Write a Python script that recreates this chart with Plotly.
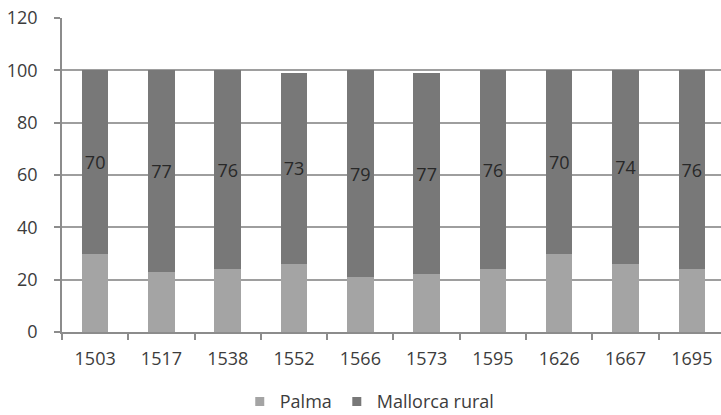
import plotly.graph_objects as go

# Population share (%) living in Palma vs. the rest of Mallorca
years = ["1503", "1517", "1538", "1552", "1566", "1573", "1595", "1626", "1667", "1695"]
palma = [30, 23, 24, 26, 21, 22, 24, 30, 26, 24]
rural = [70, 77, 76, 73, 79, 77, 76, 70, 74, 76]
y_ticks = [0, 20, 40, 60, 80, 100, 120]

FONT = "Open Sans"
LIGHT = "#a4a4a4"
DARK = "#787878"
TEXT = "#3c3c3c"

fig = go.Figure()

fig.add_trace(go.Bar(
    x=years, y=palma, name="Palma",
    marker=dict(color=LIGHT, line=dict(width=0)),
    showlegend=False, hoverinfo="skip",
))
fig.add_trace(go.Bar(
    x=years, y=rural, name="Mallorca rural",
    marker=dict(color=DARK, line=dict(width=0)),
    text=[str(v) for v in rural],
    textposition="inside", insidetextanchor="middle",
    insidetextfont=dict(family=FONT, size=18, color="#282828"),
    constraintext="none", textangle=0,
    showlegend=False, hoverinfo="skip",
))

# Legend entries with small square swatches
for name, col in [("Palma", LIGHT), ("Mallorca rural", DARK)]:
    fig.add_trace(go.Scatter(
        x=[None], y=[None], mode="markers", name=name,
        marker=dict(symbol="square", size=9, color=col),
    ))

fig.update_layout(
    width=721, height=415,
    margin=dict(l=62, r=0, t=18, b=83, autoexpand=False),
    barmode="stack", bargap=0.6,
    plot_bgcolor="white", paper_bgcolor="white",
    font=dict(family=FONT, size=18, color=TEXT),
    showlegend=True,
    legend=dict(
        orientation="h", traceorder="normal",
        x=0.467, xanchor="center", xref="paper",
        y=-0.222, yanchor="middle", yref="paper",
        font=dict(family=FONT, size=18, color=TEXT),
        itemwidth=30, tracegroupgap=0,
    ),
    xaxis=dict(
        type="category", range=[-0.5, 9.44],
        showline=True, linecolor="#8c8c8c", linewidth=1.5,
        ticks="outside", tickson="boundaries", ticklen=6,
        tickcolor="#8c8c8c", tickwidth=1.5,
        showgrid=False, fixedrange=True,
        ticklabelstandoff=10,
    ),
    yaxis=dict(
        range=[0, 120], tickvals=y_ticks,
        showline=True, linecolor="#8c8c8c", linewidth=1.5,
        ticks="outside", ticklen=6, tickcolor="#8c8c8c", tickwidth=1.5,
        showgrid=True, gridcolor="#9e9e9e", gridwidth=1.5,
        zeroline=False, ticklabelstandoff=13, fixedrange=True,
    ),
)

fig.write_html("out.html")
